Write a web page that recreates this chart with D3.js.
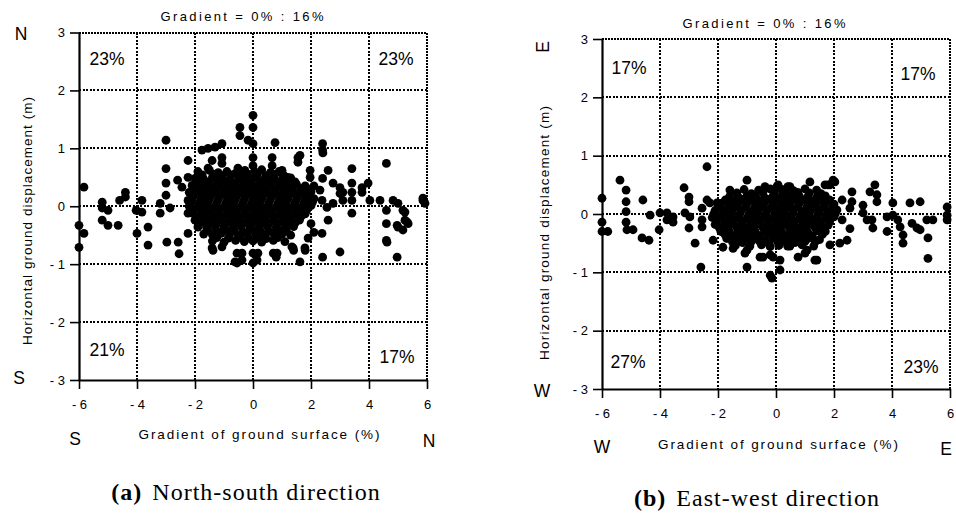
<!DOCTYPE html>
<html><head><meta charset="utf-8">
<script src="https://cdn.jsdelivr.net/npm/d3@7"></script>
<style>body{margin:0;background:#fff}svg{display:block}</style>
</head><body>
<svg id="chart" width="956" height="513"></svg>
<script>
// ---------- data ----------
const xTicks = [-6, -4, -2, 0, 2, 4, 6];
const yTicks = [-3, -2, -1, 0, 1, 2, 3];
const xGrid = [-4, -2, 0, 2, 4];
const yGrid = [-2, -1, 0, 1, 2];
const panelTitle = "Gradient = 0% : 16%";
const xTitle = "Gradient of ground surface (%)";
const yTitle = "Horizontal ground displacement (m)";
const nsQuadrants = ["23%", "23%", "21%", "17%"];   // TL, TR, BL, BR
const ewQuadrants = ["17%", "17%", "27%", "23%"];
const nsDirs = ["N", "S", "S", "N"];                 // top-left, bottom-left, x-left, x-right
const ewDirs = ["E", "W", "W", "E"];
const nsCaption = ["(a)", "North-south direction"];
const ewCaption = ["(b)", "East-west direction"];

// North-south: [gradient %, displacement m]
const nsPoints = [
[-5.83,0.33],[-6.0,-0.33],[-5.83,-0.47],[-6.0,-0.71],
[-5.2,0.07],[-5.2,-0.03],[-5.2,-0.24],[-5.0,-0.07],[-5.0,-0.33],[-4.65,-0.33],[-4.6,0.1],[-4.4,0.24],[-4.4,0.16],
[-4.03,-0.07],[-3.83,0.1],[-3.83,-0.1],[-4.0,-0.47],[-3.62,-0.36],[-3.62,-0.67],
[-3.2,0.05],[-3.2,-0.12],[-3.0,1.14],[-3.0,0.65],[-3.0,0.4],[-3.0,0.19],[-2.86,-0.03],[-2.97,-0.62],[-2.58,-0.62],
[-2.6,0.45],[-2.45,0.33],[-2.24,0.79],[-2.24,0.5],[-2.24,0.1],[-2.24,-0.12],[-2.24,-0.47],[-2.55,-0.82],
[-1.38,-0.76],[-0.55,-0.81],[-0.55,-0.98],[0,-0.81],[0,-0.98],[0.17,-0.81],[0.7,-0.81],[0.8,-0.88],[1.4,-0.76],
[1.62,-0.96],[1.8,-0.76],[2.4,-0.88],[3.0,-0.79],[4.97,-0.88],
[4.6,0.74],[4.6,-0.3],[4.6,-0.59],[4.03,0.1],[4.38,0.1],[4.6,-0.07],[4.83,0.1],[5.0,0.05],[5.17,-0.07],[5.24,-0.24],
[5.35,-0.3],[5.0,-0.36],[5.17,-0.41],[5.86,0.1],[5.93,0.05],[5.86,0.14],
[3.97,0.4],[3.76,0.24],[3.41,0.65],[3.41,0.4],[3.41,0.1],[3.41,-0.12],[3.41,0.24],[3.76,0.32],[3.1,0.24],[3.0,0.32],
[2.76,0.4],[3.0,0.22],[3.1,0.1],[2.76,0.05],[2.59,0.62],[2.4,1.08],[2.4,0.97],[2.41,0.92],[2.4,0.48],[2.31,0.28],
[2.38,0.1],[2.55,-0.02],[2.59,-0.24],[2.38,-0.47],[5.24,-0.1],[5.31,-0.27],[4.97,-0.33],[4.62,-0.62],[1.79,-0.72],[1.38,-0.72],
[0,1.57],[0,1.36],[-0.45,1.36],[-0.45,1.22],[-0.17,1.14],[0,1.08],[0.76,1.1],[-1.07,1.08],[-1.31,1.02],[-1.55,1.0],
[-1.76,0.97],[0,0.84],[0,0.7],[0.66,0.84],[0.66,0.7],[1.55,0.84],[1.55,0.76],[-0.52,0.66],[-0.28,0.62],[-1.41,0.79],
[-1.07,0.74],[-1.07,0.84],[-1.55,0.66],[1.0,0.62],[1.2,0.5],[1.62,0.88],[1.97,0.62],[1.97,0.5],[2.1,0.35],[2.0,-0.3],
[2.1,-0.45],[1.9,-0.55],
[-1.41,-0.72],[-1.07,-0.7],[-0.38,-0.81],[0.14,-0.93],[0.83,-0.81],[1.34,-0.7],[-0.38,-0.93],[-0.62,-0.96],
[-1.9,0.6],[-1.5,0.62],[-1.2,0.58],[-0.9,0.6],[-0.6,0.57],[-0.3,0.6],[0.05,0.6],[0.3,0.63],[0.6,0.58],[0.9,0.6],
[-1.75,0.54],[-1.35,0.55],[-1.05,0.53],[-0.75,0.54],[-0.45,0.52],[-0.15,0.55],[0.15,0.54],[0.45,0.53],[0.75,0.55],[1.05,0.54],
[-2.0,0.48],[-1.7,0.47],[-1.4,0.5],[-1.1,0.48],[-0.8,0.46],[-0.5,0.49],[-0.2,0.48],[0.1,0.5],[0.4,0.47],[0.7,0.48],[1.0,0.46],[1.3,0.49],
[-1.85,0.42],[-1.55,0.41],[-1.25,0.43],[-0.95,0.42],[-0.65,0.4],[-0.35,0.43],[-0.05,0.42],[0.25,0.41],[0.55,0.43],[0.85,0.42],[1.15,0.4],[1.45,0.42],
[-2.1,0.36],[-1.8,0.35],[-1.5,0.37],[-1.2,0.36],[-0.9,0.34],[-0.6,0.37],[-0.3,0.36],[0.0,0.35],[0.3,0.37],[0.6,0.36],[0.9,0.34],[1.2,0.36],[1.5,0.38],[1.8,0.35],
[-1.95,0.3],[-1.65,0.29],[-1.35,0.31],[-1.05,0.3],[-0.75,0.28],[-0.45,0.31],[-0.15,0.3],[0.15,0.29],[0.45,0.31],[0.75,0.3],[1.05,0.28],[1.35,0.31],[1.65,0.3],[1.95,0.29],
[-2.2,0.24],[-1.9,0.23],[-1.6,0.25],[-1.3,0.24],[-1.0,0.22],[-0.7,0.25],[-0.4,0.24],[-0.1,0.23],[0.2,0.25],[0.5,0.24],[0.8,0.22],[1.1,0.25],[1.4,0.24],[1.7,0.23],[2.0,0.25],
[-2.05,0.18],[-1.75,0.17],[-1.45,0.19],[-1.15,0.18],[-0.85,0.16],[-0.55,0.19],[-0.25,0.18],[0.05,0.17],[0.35,0.19],[0.65,0.18],[0.95,0.16],[1.25,0.19],[1.55,0.18],[1.85,0.17],
[-2.1,0.12],[-1.8,0.11],[-1.5,0.13],[-1.2,0.12],[-0.9,0.1],[-0.6,0.13],[-0.3,0.12],[0.0,0.11],[0.3,0.13],[0.6,0.12],[0.9,0.1],[1.2,0.13],[1.5,0.12],[1.8,0.11],[2.1,0.13],
[-2.15,0.06],[-1.85,0.05],[-1.55,0.07],[-1.25,0.06],[-0.95,0.04],[-0.65,0.07],[-0.35,0.06],[-0.05,0.05],[0.25,0.07],[0.55,0.06],[0.85,0.04],[1.15,0.07],[1.45,0.06],[1.75,0.05],[2.05,0.07],
[-2.2,0.0],[-1.9,-0.01],[-1.6,0.01],[-1.3,0.0],[-1.0,-0.02],[-0.7,0.01],[-0.4,0.0],[-0.1,-0.01],[0.2,0.01],[0.5,0.0],[0.8,-0.02],[1.1,0.01],[1.4,0.0],[1.7,-0.01],[2.0,0.01],
[-2.05,-0.06],[-1.75,-0.07],[-1.45,-0.05],[-1.15,-0.06],[-0.85,-0.08],[-0.55,-0.05],[-0.25,-0.06],[0.05,-0.07],[0.35,-0.05],[0.65,-0.06],[0.95,-0.08],[1.25,-0.05],[1.55,-0.06],[1.85,-0.07],
[-2.1,-0.12],[-1.8,-0.13],[-1.5,-0.11],[-1.2,-0.12],[-0.9,-0.14],[-0.6,-0.11],[-0.3,-0.12],[0.0,-0.13],[0.3,-0.11],[0.6,-0.12],[0.9,-0.14],[1.2,-0.11],[1.5,-0.12],[1.8,-0.13],
[-1.95,-0.18],[-1.65,-0.19],[-1.35,-0.17],[-1.05,-0.18],[-0.75,-0.2],[-0.45,-0.17],[-0.15,-0.18],[0.15,-0.19],[0.45,-0.17],[0.75,-0.18],[1.05,-0.2],[1.35,-0.17],[1.65,-0.18],
[-2.0,-0.24],[-1.7,-0.25],[-1.4,-0.23],[-1.1,-0.24],[-0.8,-0.26],[-0.5,-0.23],[-0.2,-0.24],[0.1,-0.25],[0.4,-0.23],[0.7,-0.24],[1.0,-0.26],[1.3,-0.23],[1.6,-0.24],
[-1.85,-0.3],[-1.55,-0.31],[-1.25,-0.29],[-0.95,-0.3],[-0.65,-0.32],[-0.35,-0.29],[-0.05,-0.3],[0.25,-0.31],[0.55,-0.29],[0.85,-0.3],[1.15,-0.32],[1.45,-0.29],
[-1.9,-0.36],[-1.6,-0.37],[-1.3,-0.35],[-1.0,-0.36],[-0.7,-0.38],[-0.4,-0.35],[-0.1,-0.36],[0.2,-0.37],[0.5,-0.35],[0.8,-0.36],[1.1,-0.38],[1.4,-0.35],
[-1.55,-0.42],[-1.25,-0.43],[-0.95,-0.41],[-0.65,-0.42],[-0.35,-0.44],[-0.05,-0.41],[0.25,-0.42],[0.55,-0.43],[0.85,-0.41],[1.15,-0.42],
[-1.7,-0.48],[-1.4,-0.49],[-1.1,-0.47],[-0.8,-0.48],[-0.5,-0.5],[-0.2,-0.47],[0.1,-0.48],[0.4,-0.49],[0.7,-0.47],[1.0,-0.48],[1.3,-0.5],
[-1.25,-0.54],[-0.85,-0.55],[-0.45,-0.53],[-0.15,-0.55],[0.15,-0.54],[0.45,-0.56],[0.85,-0.54],
[-1.4,-0.6],[-1.0,-0.62],[-0.6,-0.59],[-0.3,-0.61],[0.0,-0.6],[0.3,-0.62],[0.7,-0.59],[1.1,-0.61]
];

// East-west: [gradient %, displacement m]
const ewPoints = [
[-6.0,0.27],[-6.0,-0.14],[-6.0,-0.3],[-5.8,-0.3],[-5.38,0.58],[-5.17,0.41],[-5.17,0.21],[-5.17,0.04],[-5.17,-0.14],
[-5.14,-0.27],[-4.93,-0.27],[-4.59,0.24],[-4.62,-0.41],[-4.38,-0.45],[-4.34,-0.02],[-4.03,-0.27],[-4.0,0.02],
[-3.76,0.02],[-3.76,-0.1],[-3.55,-0.14],[-3.55,-0.05],[-3.17,0.45],[-3.0,0.29],[-3.0,0.21],[-3.14,0.02],[-2.97,-0.05],
[-3.0,-0.24],[-2.79,-0.5],[-2.38,0.81],[-2.38,0.24],[-2.28,0.19],[-2.55,0.1],[-2.55,-0.1],[-2.55,-0.22],[-2.03,0.19],[-2.59,-0.91],
[-1.0,-0.91],[-1.0,-0.62],[-0.14,-1.1],[0.14,-0.96],[-0.45,-0.74],[-0.1,-0.74],[0.14,-0.79],[0.76,-0.74],[1.0,-0.67],
[1.34,-0.79],[5.24,-0.76],
[2.03,0.55],[1.86,0.5],[2.62,0.38],[2.28,0.24],[2.62,0.21],[3.0,0.15],[3.0,0.02],[3.41,0.5],[3.48,0.33],[3.48,0.21],
[3.24,0.38],[3.14,-0.1],[3.31,-0.1],[3.34,-0.24],[3.83,-0.05],[3.83,-0.3],[4.03,0.19],[4.03,-0.02],[4.2,-0.1],[4.28,-0.22],
[4.38,-0.36],[4.38,-0.5],[4.62,0.19],[4.97,0.21],[4.69,-0.16],[4.86,-0.24],[4.97,-0.27],[5.2,-0.1],[5.41,-0.1],[5.24,-0.41],
[5.9,0.12],[5.9,-0.02],[5.9,-0.1],[2.45,-0.45],[2.2,-0.5],[1.86,-0.53],[2.55,0.1],[2.28,-0.1],[2.55,-0.25],
[1.97,0.58],[1.69,0.5],[1.17,0.55],[-1.0,0.58],[0.03,0.47],[0.41,0.47],[-0.38,0.47],[-1.59,0.41],[0.07,0.5],[0.48,0.47],
[1.79,0.5],[1.41,-0.79],[1.07,-0.62],[-2.17,-0.45],[-1.83,-0.57],[-1.48,-0.59],[-0.55,-0.74],[-1.07,-0.67],[-0.2,-0.7],
[0.48,-0.55],[-0.2,-1.05],
[-1.1,0.42],[-0.6,0.41],[-0.2,0.43],[0.2,0.42],[0.6,0.4],[1.0,0.43],[1.4,0.41],
[-1.35,0.36],[-0.85,0.35],[-0.45,0.37],[-0.05,0.36],[0.35,0.35],[0.75,0.37],[1.15,0.36],[1.55,0.35],
[-1.6,0.3],[-1.3,0.29],[-1.0,0.31],[-0.7,0.3],[-0.4,0.28],[-0.1,0.31],[0.2,0.3],[0.5,0.29],[0.8,0.31],[1.1,0.3],[1.4,0.28],[1.7,0.31],
[-1.75,0.24],[-1.45,0.23],[-1.15,0.25],[-0.85,0.24],[-0.55,0.22],[-0.25,0.25],[0.05,0.24],[0.35,0.23],[0.65,0.25],[0.95,0.24],[1.25,0.22],[1.55,0.25],[1.85,0.24],
[-1.9,0.18],[-1.6,0.17],[-1.3,0.19],[-1.0,0.18],[-0.7,0.16],[-0.4,0.19],[-0.1,0.18],[0.2,0.17],[0.5,0.19],[0.8,0.18],[1.1,0.16],[1.4,0.19],[1.7,0.18],[2.0,0.17],
[-1.95,0.12],[-1.65,0.11],[-1.35,0.13],[-1.05,0.12],[-0.75,0.1],[-0.45,0.13],[-0.15,0.12],[0.15,0.11],[0.45,0.13],[0.75,0.12],[1.05,0.1],[1.35,0.13],[1.65,0.12],[1.95,0.11],
[-2.1,0.06],[-1.8,0.05],[-1.5,0.07],[-1.2,0.06],[-0.9,0.04],[-0.6,0.07],[-0.3,0.06],[0.0,0.05],[0.3,0.07],[0.6,0.06],[0.9,0.04],[1.2,0.07],[1.5,0.06],[1.8,0.05],[2.1,0.07],
[-2.15,0.0],[-1.85,-0.01],[-1.55,0.01],[-1.25,0.0],[-0.95,-0.02],[-0.65,0.01],[-0.35,0.0],[-0.05,-0.01],[0.25,0.01],[0.55,0.0],[0.85,-0.02],[1.15,0.01],[1.45,0.0],[1.75,-0.01],[2.05,0.01],
[-2.2,-0.06],[-1.9,-0.07],[-1.6,-0.05],[-1.3,-0.06],[-1.0,-0.08],[-0.7,-0.05],[-0.4,-0.06],[-0.1,-0.07],[0.2,-0.05],[0.5,-0.06],[0.8,-0.08],[1.1,-0.05],[1.4,-0.06],[1.7,-0.07],[2.0,-0.05],
[-2.05,-0.12],[-1.75,-0.13],[-1.45,-0.11],[-1.15,-0.12],[-0.85,-0.14],[-0.55,-0.11],[-0.25,-0.12],[0.05,-0.13],[0.35,-0.11],[0.65,-0.12],[0.95,-0.14],[1.25,-0.11],[1.55,-0.12],[1.85,-0.13],
[-2.1,-0.18],[-1.8,-0.19],[-1.5,-0.17],[-1.2,-0.18],[-0.9,-0.2],[-0.6,-0.17],[-0.3,-0.18],[0.0,-0.19],[0.3,-0.17],[0.6,-0.18],[0.9,-0.2],[1.2,-0.17],[1.5,-0.18],[1.8,-0.19],
[-1.95,-0.24],[-1.65,-0.25],[-1.35,-0.23],[-1.05,-0.24],[-0.75,-0.26],[-0.45,-0.23],[-0.15,-0.24],[0.15,-0.25],[0.45,-0.23],[0.75,-0.24],[1.05,-0.26],[1.35,-0.23],[1.65,-0.24],
[-1.9,-0.3],[-1.6,-0.31],[-1.3,-0.29],[-1.0,-0.3],[-0.7,-0.32],[-0.4,-0.29],[-0.1,-0.3],[0.2,-0.31],[0.5,-0.29],[0.8,-0.3],[1.1,-0.32],[1.4,-0.29],[1.7,-0.3],
[-1.75,-0.36],[-1.45,-0.37],[-1.15,-0.35],[-0.85,-0.36],[-0.55,-0.38],[-0.25,-0.35],[0.05,-0.36],[0.35,-0.37],[0.65,-0.35],[0.95,-0.36],[1.25,-0.38],[1.6,-0.35],
[-1.7,-0.42],[-1.3,-0.43],[-1.0,-0.41],[-0.7,-0.42],[-0.4,-0.44],[-0.1,-0.41],[0.2,-0.42],[0.5,-0.43],[0.8,-0.41],[1.1,-0.42],[1.5,-0.44],
[-1.5,-0.48],[-1.15,-0.49],[-0.85,-0.47],[-0.55,-0.48],[-0.25,-0.5],[0.05,-0.47],[0.35,-0.48],[0.65,-0.49],[1.0,-0.47],[1.35,-0.48],
[-1.4,-0.54],[-0.9,-0.55],[-0.5,-0.53],[-0.2,-0.56],[0.1,-0.54],[0.4,-0.55],[0.9,-0.53],[1.3,-0.55]
];

// ---------- drawing ----------
const svg = d3.select("#chart");
const SANS = "'Liberation Sans', Arial, Helvetica, sans-serif";
const SERIF = "'Liberation Serif', 'Times New Roman', serif";
const fmt = d => d < 0 ? "- " + Math.abs(d) : String(d);

function drawPanel(o) {
  const x = d3.scaleLinear().domain([-6, 6]).range([o.x0, o.x1]);
  const y = d3.scaleLinear().domain([-3, 3]).range([o.y0, o.y1]);
  const g = svg.append("g");

  // dotted grid
  const dot = "2,1.6";
  g.selectAll(".gx").data(xGrid).join("line")
    .attr("x1", d => Math.round(x(d))).attr("x2", d => Math.round(x(d))).attr("y1", y(3)).attr("y2", y(-3))
    .attr("stroke", "#000").attr("stroke-width", 2).attr("stroke-dasharray", dot).attr("shape-rendering", "crispEdges");
  g.selectAll(".gy").data(yGrid).join("line")
    .attr("y1", d => Math.round(y(d))).attr("y2", d => Math.round(y(d))).attr("x1", x(-6)).attr("x2", x(6))
    .attr("stroke", "#000").attr("stroke-width", 2).attr("stroke-dasharray", dot).attr("shape-rendering", "crispEdges");
  // top & right frame (dense dotted)
  g.append("line").attr("x1", x(-6)).attr("x2", x(6)).attr("y1", y(3)).attr("y2", y(3))
    .attr("stroke", "#000").attr("stroke-width", 2).attr("stroke-dasharray", "2,1").attr("shape-rendering", "crispEdges");
  g.append("line").attr("x1", x(6)).attr("x2", x(6)).attr("y1", y(3)).attr("y2", y(-3))
    .attr("stroke", "#000").attr("stroke-width", 2).attr("stroke-dasharray", "2,1").attr("shape-rendering", "crispEdges");

  // points
  g.append("g").selectAll("circle").data(o.points).join("circle")
    .attr("cx", d => x(d[0])).attr("cy", d => y(d[1])).attr("r", 4.4).attr("fill", "#000");

  // axes
  const ax = g.append("g").attr("transform", `translate(0,${o.y0})`)
    .call(d3.axisBottom(x).tickValues(xTicks).tickFormat(fmt).tickSize(9).tickSizeOuter(0).tickPadding(11));
  const ay = g.append("g").attr("transform", `translate(${o.x0},0)`)
    .call(d3.axisLeft(y).tickValues(yTicks).tickFormat(fmt).tickSize(9).tickSizeOuter(0).tickPadding(5));
  [ax, ay].forEach(a => {
    a.select(".domain").attr("stroke", "#000").attr("stroke-width", 2.2);
    a.selectAll(".tick line").attr("stroke", "#000").attr("stroke-width", 1.6);
    a.selectAll("text").attr("font-family", SANS).attr("font-size", 13).attr("fill", "#000");
  });

  // title
  g.append("text").attr("x", o.titleX).attr("y", o.titleY).attr("text-anchor", "middle")
    .attr("font-family", SANS).attr("font-size", 13).attr("textLength", 163).attr("lengthAdjust", "spacing")
    .text(panelTitle);

  // x title
  g.append("text").attr("x", o.xtX).attr("y", o.xtY).attr("text-anchor", "middle")
    .attr("font-family", SANS).attr("font-size", 13.5).attr("textLength", o.xtLen).attr("lengthAdjust", "spacing")
    .text(xTitle);
  // y title
  g.append("text").attr("transform", `translate(${o.ytX},${o.ytY}) rotate(-90)`).attr("text-anchor", "middle")
    .attr("font-family", SANS).attr("font-size", 13.5).attr("textLength", o.ytLen).attr("lengthAdjust", "spacing")
    .text(yTitle);

  // quadrant percentages
  o.quadPos.forEach((p, i) => {
    g.append("text").attr("x", p[0]).attr("y", p[1]).attr("text-anchor", "middle")
      .attr("font-family", SANS).attr("font-size", 17.5).text(o.quads[i]);
  });

  // direction letters
  o.dirPos.forEach((p, i) => {
    const t = g.append("text").attr("font-family", SANS).attr("font-size", 17.5).attr("text-anchor", "middle").text(o.dirs[i]);
    if (p[2]) t.attr("transform", `translate(${p[0]},${p[1]}) rotate(-90)`).attr("dy", "0.35em");
    else t.attr("x", p[0]).attr("y", p[1]);
  });

  // caption
  const cap = g.append("text").attr("x", o.capX).attr("y", o.capY).attr("text-anchor", "middle")
    .attr("font-family", SERIF).attr("font-size", 24).attr("letter-spacing", 1);
  cap.append("tspan").attr("font-weight", "bold").text(o.caption[0]);
  cap.append("tspan").attr("dx", 10).text(o.caption[1]);
}

drawPanel({
  x0: 79, x1: 427, y0: 380, y1: 32.5, points: nsPoints,
  titleX: 242, titleY: 21,
  xtX: 259, xtY: 439, xtLen: 241,
  ytX: 32, ytY: 221, ytLen: 248,
  quads: nsQuadrants, quadPos: [[107, 65], [396, 65], [107, 356], [397, 363]],
  dirs: nsDirs, dirPos: [[21, 40], [19, 384], [75, 445], [429, 447]],
  caption: nsCaption, capX: 246, capY: 500
});
drawPanel({
  x0: 602, x1: 950, y0: 389, y1: 39, points: ewPoints,
  titleX: 764, titleY: 28,
  xtX: 778, xtY: 449, xtLen: 240,
  ytX: 549, ytY: 233, ytLen: 254,
  quads: ewQuadrants, quadPos: [[629, 74], [918, 80], [628, 368], [921, 373]],
  dirs: ewDirs, dirPos: [[543, 47, true], [542, 397], [602, 453], [946, 455]],
  caption: ewCaption, capX: 757, capY: 506
});
</script>
</body></html>
